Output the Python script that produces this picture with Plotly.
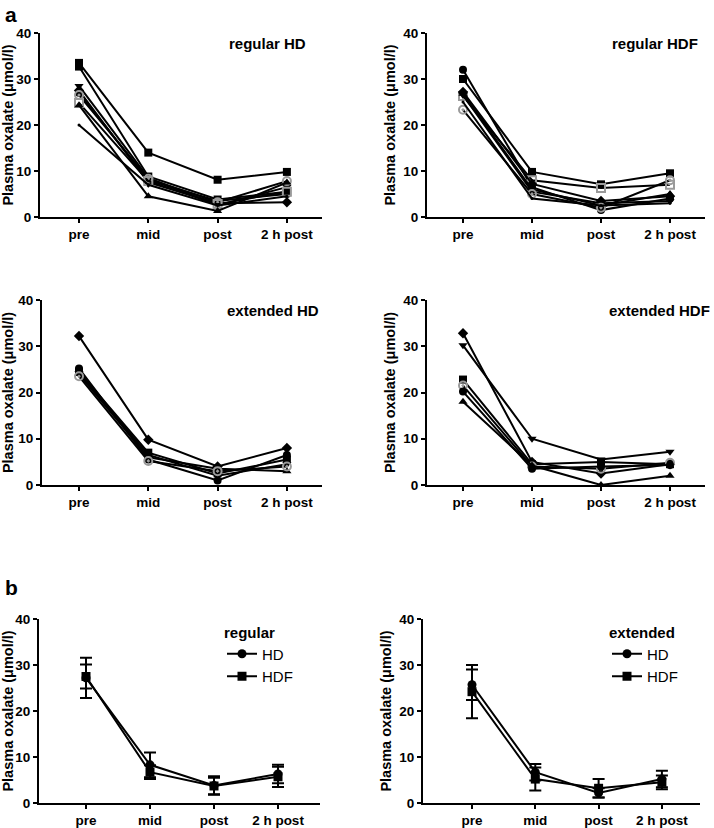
import plotly.graph_objects as go

W, H = 714, 828
categories = ["pre", "mid", "post", "2 h post"]
y_ticks = [0, 10, 20, 30, 40]

# ---- panel a: individual patients ----
regular_hd = {
    "p1": [33.5, 14.0, 8.1, 9.8],
    "p2": [32.7, 8.8, 3.8, 5.5],
    "p3": [28.5, 8.5, 2.5, 6.5],
    "p4": [27.5, 7.5, 3.0, 3.2],
    "p5": [27.0, 8.0, 3.5, 5.0],
    "p6": [26.5, 8.3, 3.2, 7.8],
    "p7": [24.8, 7.8, 2.8, 5.5],
    "p8": [24.3, 4.5, 1.3, 7.5],
    "p9": [20.0, 7.0, 2.5, 4.5],
}
regular_hd_sym = ["square", "square", "triangle-down", "diamond", "circle",
                  "circle-open-dot", "square-open", "triangle-up", "circle"]

regular_hdf = {
    "p1": [32.0, 6.5, 1.5, 4.0],
    "p2": [30.0, 9.8, 7.1, 9.5],
    "p3": [26.3, 8.0, 6.3, 7.0],
    "p4": [27.2, 7.2, 3.5, 4.5],
    "p5": [26.8, 6.0, 2.5, 5.0],
    "p6": [26.5, 5.5, 3.0, 3.5],
    "p7": [23.3, 5.0, 2.0, 8.0],
    "p8": [25.0, 4.0, 2.5, 3.0],
}
regular_hdf_sym = ["circle", "square", "square-open", "diamond", "triangle-up",
                   "triangle-down", "circle-open-dot", "circle"]

extended_hd = {
    "p1": [32.2, 9.8, 4.0, 8.0],
    "p2": [25.2, 5.5, 1.0, 6.5],
    "p3": [24.5, 7.0, 2.5, 5.5],
    "p4": [24.0, 6.0, 3.5, 3.0],
    "p5": [24.2, 6.5, 2.0, 4.5],
    "p6": [23.5, 5.2, 3.0, 4.0],
}
extended_hd_sym = ["diamond", "circle", "square", "triangle-up", "triangle-down",
                   "circle-open-dot"]

extended_hdf = {
    "p1": [32.8, 5.0, 2.5, 4.5],
    "p2": [30.2, 10.0, 5.5, 7.2],
    "p3": [22.8, 4.5, 5.0, 4.5],
    "p4": [21.5, 4.0, 3.5, 4.8],
    "p5": [20.2, 3.5, 4.0, 4.3],
    "p6": [18.0, 4.2, 0.0, 2.0],
}
extended_hdf_sym = ["diamond", "triangle-down", "square", "circle-open-dot",
                    "circle", "triangle-up"]

# ---- panel b: means with error bars ----
reg_hd_mean = [27.2, 8.3, 3.8, 6.3]
reg_hd_err = [4.4, 2.7, 2.0, 2.0]
reg_hdf_mean = [27.5, 6.7, 3.7, 5.7]
reg_hdf_err = [2.6, 1.5, 1.8, 2.2]
ext_hd_mean = [25.7, 6.7, 2.2, 5.2]
ext_hd_err = [3.3, 1.8, 1.0, 1.8]
ext_hdf_mean = [24.2, 5.2, 3.2, 4.5]
ext_hdf_err = [5.8, 2.5, 2.0, 1.5]

FONT = "Liberation Sans"
GRAY = "#9a9a9a"
xpos = list(range(len(categories)))

fig = go.Figure()


def px_x(p):
    return p / W


def px_y(p):
    return 1 - p / H


# panel geometry: (left, right, top, bottom, pre_px, step_px)
panels = [
    (40, 322, 33, 217, 79, 69.3),
    (427, 705, 33, 217, 463, 69.0),
    (42, 322, 300, 485, 79, 69.3),
    (427, 705, 300, 485, 463, 69.0),
    (39, 320, 619, 803, 86, 64.0),
    (423, 700, 619, 803, 472, 63.3),
]

for i, (l, r, t, b, pre, step) in enumerate(panels):
    n = "" if i == 0 else str(i + 1)
    xa = dict(
        domain=[px_x(l), px_x(r)], anchor="y" + n,
        range=[(l - pre) / step, (r - pre) / step],
        tickvals=xpos, ticktext=categories,
        showline=True, linecolor="black", linewidth=2,
        ticks="outside", ticklen=4, tickwidth=2, tickcolor="black",
        showgrid=False, zeroline=False,
        tickfont=dict(family=FONT, size=13.5, color="black", weight="bold"),
        automargin=False,
    )
    ya = dict(
        domain=[px_y(b), px_y(t)], anchor="x" + n,
        range=[0, 40], tickvals=y_ticks,
        showline=True, linecolor="black", linewidth=2,
        ticks="outside", ticklen=4, tickwidth=2, tickcolor="black",
        showgrid=False, zeroline=False,
        tickfont=dict(family=FONT, size=13.5, color="black", weight="bold"),
        title=dict(text="Plasma oxalate (\u03bcmol/l)", standoff=4,
                   font=dict(family=FONT, size=14.5, color="black", weight="bold")),
        automargin=False,
    )
    fig.update_layout(**{"xaxis" + n: xa, "yaxis" + n: ya})


def add_individual(data, syms, k):
    n = "" if k == 1 else str(k)
    keys = list(data.keys())
    for (name, vals), sym in zip(data.items(), syms):
        gray = "open" in sym
        size = 8
        if name == keys[-1] and sym == "circle" and len(data) >= 8:
            size = 3
        fig.add_trace(go.Scatter(
            x=xpos, y=vals, mode="lines+markers",
            line=dict(color="black", width=2),
            marker=dict(symbol=sym, size=size,
                        color=GRAY if gray else "black",
                        line=dict(color=GRAY if gray else "black",
                                  width=2 if gray else 0)),
            xaxis="x" + n, yaxis="y" + n, showlegend=False, name=name,
        ))


add_individual(regular_hd, regular_hd_sym, 1)
add_individual(regular_hdf, regular_hdf_sym, 2)
add_individual(extended_hd, extended_hd_sym, 3)
add_individual(extended_hdf, extended_hdf_sym, 4)


def add_mean(mean, err, sym, name, k, legend):
    n = str(k)
    fig.add_trace(go.Scatter(
        x=xpos, y=mean, mode="lines+markers", name=name,
        line=dict(color="black", width=2),
        marker=dict(symbol=sym, size=9, color="black"),
        error_y=dict(type="data", array=err, visible=True, color="black",
                     thickness=2, width=6),
        xaxis="x" + n, yaxis="y" + n, legend=legend,
    ))


add_mean(reg_hd_mean, reg_hd_err, "circle", "HD", 5, "legend")
add_mean(reg_hdf_mean, reg_hdf_err, "square", "HDF", 5, "legend")
add_mean(ext_hd_mean, ext_hd_err, "circle", "HD", 6, "legend2")
add_mean(ext_hdf_mean, ext_hdf_err, "square", "HDF", 6, "legend2")

title_font = dict(family=FONT, size=15, color="black", weight="bold")
ann = [
    dict(text="regular HD", x=px_x(267), y=px_y(43), xanchor="center", yanchor="middle"),
    dict(text="regular HDF", x=px_x(655), y=px_y(43), xanchor="center", yanchor="middle"),
    dict(text="extended HD", x=px_x(273), y=px_y(310), xanchor="center", yanchor="middle"),
    dict(text="extended HDF", x=px_x(712), y=px_y(310), xanchor="right", yanchor="middle"),
]
for a in ann:
    fig.add_annotation(xref="paper", yref="paper", showarrow=False, font=title_font, **a)
fig.add_annotation(text="a", x=px_x(3), y=px_y(15), xref="paper", yref="paper",
                   xanchor="left", yanchor="middle", showarrow=False,
                   font=dict(family=FONT, size=21, color="black", weight="bold"))
fig.add_annotation(text="b", x=px_x(3), y=px_y(587), xref="paper", yref="paper",
                   xanchor="left", yanchor="middle", showarrow=False,
                   font=dict(family=FONT, size=21, color="black", weight="bold"))

leg_common = dict(
    xanchor="left", yanchor="top", bgcolor="rgba(0,0,0,0)",
    font=dict(family=FONT, size=15, color="black"),
    itemwidth=30, tracegroupgap=0,
)
fig.update_layout(
    legend=dict(x=px_x(222), y=px_y(618),
                title=dict(text="regular", font=title_font), **leg_common),
    legend2=dict(x=px_x(607), y=px_y(618),
                 title=dict(text="extended", font=title_font), **leg_common),
    width=W, height=H, margin=dict(l=0, r=0, t=0, b=0),
    plot_bgcolor="white", paper_bgcolor="white",
)

# remove the default 8px page margin so the figure fills the window exactly
fig.write_html("out.html", config={"displayModeBar": False},
               post_script="document.body.style.margin='0';")
